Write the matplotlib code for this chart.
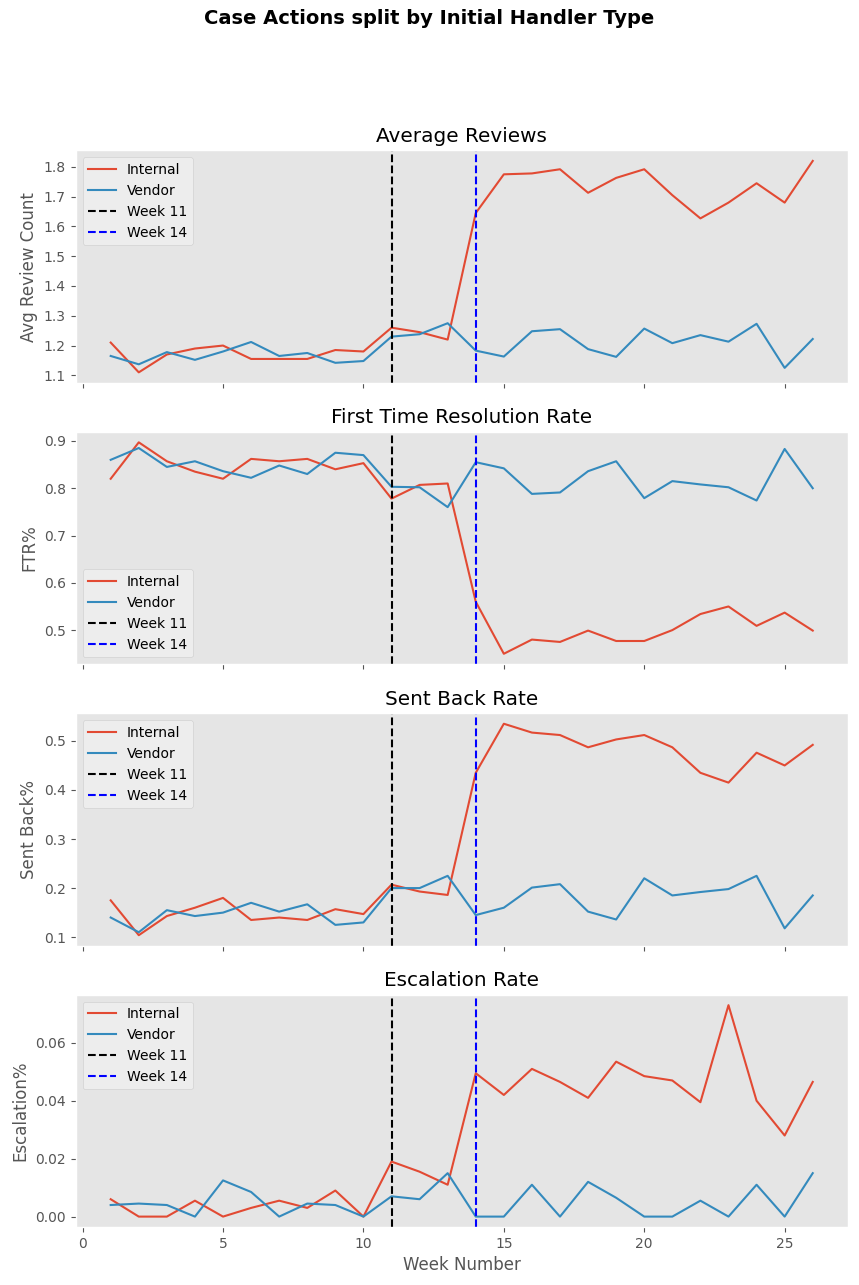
import numpy as np
import matplotlib.pyplot as plt

plt.style.use('ggplot')

weeks = np.arange(1, 27)

reviews_internal = [1.21, 1.11, 1.17, 1.19, 1.20, 1.155, 1.155, 1.155, 1.185, 1.18, 1.26, 1.245, 1.22,
                    1.645, 1.775, 1.778, 1.792, 1.713, 1.763, 1.792, 1.705, 1.627, 1.68, 1.745, 1.68, 1.82]
reviews_vendor = [1.165, 1.137, 1.178, 1.152, 1.18, 1.212, 1.165, 1.175, 1.142, 1.148, 1.23, 1.238, 1.275,
                  1.183, 1.163, 1.248, 1.255, 1.188, 1.162, 1.257, 1.208, 1.235, 1.213, 1.273, 1.125, 1.222]

ftr_internal = [0.82, 0.897, 0.857, 0.835, 0.82, 0.862, 0.857, 0.862, 0.84, 0.853, 0.778, 0.807, 0.81,
                0.56, 0.45, 0.48, 0.475, 0.499, 0.477, 0.477, 0.5, 0.534, 0.55, 0.509, 0.537, 0.499]
ftr_vendor = [0.86, 0.885, 0.845, 0.857, 0.836, 0.822, 0.848, 0.83, 0.875, 0.87, 0.803, 0.802, 0.76,
              0.855, 0.842, 0.788, 0.791, 0.836, 0.857, 0.779, 0.815, 0.808, 0.802, 0.774, 0.883, 0.8]

sent_internal = [0.175, 0.104, 0.143, 0.16, 0.18, 0.135, 0.14, 0.135, 0.157, 0.147, 0.207, 0.193, 0.186,
                 0.435, 0.535, 0.517, 0.512, 0.487, 0.503, 0.512, 0.487, 0.435, 0.415, 0.476, 0.45, 0.492]
sent_vendor = [0.14, 0.11, 0.155, 0.143, 0.15, 0.17, 0.152, 0.167, 0.125, 0.13, 0.2, 0.2, 0.225,
               0.145, 0.16, 0.201, 0.208, 0.152, 0.136, 0.22, 0.185, 0.192, 0.198, 0.225, 0.118, 0.185]

esc_internal = [0.006, 0, 0, 0.0055, 0, 0.003, 0.0055, 0.003, 0.009, 0, 0.019, 0.0155, 0.011,
                0.0495, 0.042, 0.051, 0.0465, 0.041, 0.0535, 0.0485, 0.047, 0.0395, 0.073, 0.040, 0.028, 0.0465]
esc_vendor = [0.004, 0.0045, 0.004, 0, 0.0125, 0.0085, 0, 0.0045, 0.004, 0, 0.007, 0.006, 0.015,
              0, 0, 0.011, 0, 0.012, 0.0065, 0, 0, 0.0055, 0, 0.011, 0, 0.015]

panels = [
    ('Average Reviews', 'Avg Review Count', reviews_internal, reviews_vendor, 'upper left'),
    ('First Time Resolution Rate', 'FTR%', ftr_internal, ftr_vendor, 'lower left'),
    ('Sent Back Rate', 'Sent Back%', sent_internal, sent_vendor, 'upper left'),
    ('Escalation Rate', 'Escalation%', esc_internal, esc_vendor, 'upper left'),
]

fig, axes = plt.subplots(4, 1, figsize=(8.59, 12.85), dpi=100, sharex=True)
fig.subplots_adjust(left=0.088, right=0.987, top=0.883, bottom=0.045, hspace=0.21)
fig.suptitle('Case Actions split by Initial Handler Type', fontsize=14, fontweight='bold', y=0.993)

for ax, (title, ylabel, internal, vendor, loc) in zip(axes, panels):
    ax.plot(weeks, internal, label='Internal')
    ax.plot(weeks, vendor, label='Vendor')
    ax.axvline(11, color='black', linestyle='--', label='Week 11')
    ax.axvline(14, color='blue', linestyle='--', label='Week 14')
    ax.set_title(title)
    ax.set_ylabel(ylabel)
    ax.legend(loc=loc, facecolor='#f0f0f0')
    ax.grid(False)

axes[-1].set_xlabel('Week Number')

fig.savefig('out.png')
plt.close(fig)
